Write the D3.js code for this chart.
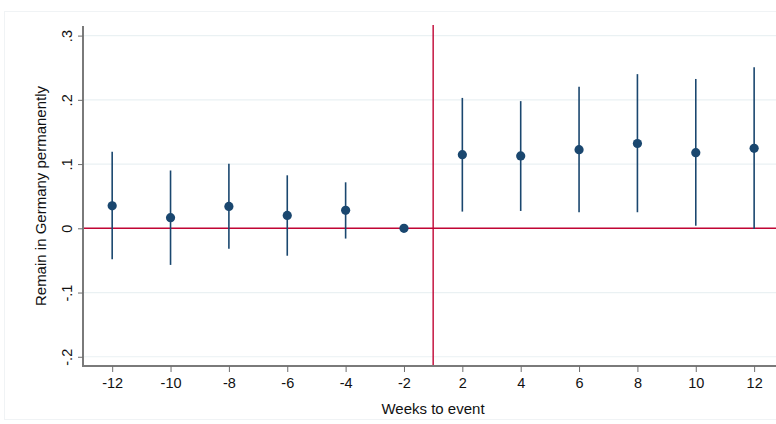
<!DOCTYPE html>
<html>
<head>
<meta charset="utf-8">
<script src="https://cdn.jsdelivr.net/npm/d3@7"></script>
<style>
  html, body { margin: 0; padding: 0; background: #fff; }
  svg { display: block; font-family: "Liberation Sans", Arial, sans-serif; }
</style>
</head>
<body>
<svg id="chart"></svg>
<script>
// weeks relative to the event (reference week -1 omitted)
const weeks = ['-12', '-10', '-8', '-6', '-4', '-2', '2', '4', '6', '8', '10', '12'];
const coef = [0.035, 0.0165, 0.034, 0.020, 0.028, 0, 0.1146, 0.1126, 0.1224, 0.132, 0.1177, 0.1245];
const ciLow = [-0.048, -0.057, -0.032, -0.0427, -0.016, null, 0.026, 0.027, 0.025, 0.025, 0.004, -0.001];
const ciHigh = [0.119, 0.090, 0.1006, 0.0825, 0.0716, null, 0.203, 0.198, 0.2205, 0.240, 0.2325, 0.2507];
const yTicks = [-0.2, -0.1, 0, 0.1, 0.2, 0.3];
const yTickLabels = ['-.2', '-.1', '0', '.1', '.2', '.3'];

const width = 776;
const height = 424;
const plotLeft = 83;
const plotTop = 26;
const plotBottom = 366;

const navy = '#1a476f';
const red = '#c10534';

const svg = d3.select('#chart')
    .attr('width', width)
    .attr('height', height);

// outer graph frame (stata style)
svg.append('rect')
    .attr('x', 4.5)
    .attr('y', 11.5)
    .attr('width', width)
    .attr('height', height - 16)
    .attr('fill', 'none')
    .attr('stroke', '#f0f3f5');

const x = d3.scaleLinear()
    .domain([-0.5, 11.5])
    .range([plotLeft, plotLeft + 12 * 58.36]);
const y = d3.scaleLinear()
    .domain([0, 0.3])
    .range([228.3, 35.6]);

// gridlines
svg.append('g')
    .selectAll('line')
    .data(yTicks)
    .join('line')
    .attr('x1', plotLeft)
    .attr('x2', width)
    .attr('y1', (d) => y(d))
    .attr('y2', (d) => y(d))
    .attr('stroke', '#eaf1f3')
    .attr('stroke-width', 1.2);

// reference lines
svg.append('line')
    .attr('x1', plotLeft)
    .attr('x2', width)
    .attr('y1', y(0))
    .attr('y2', y(0))
    .attr('stroke', red)
    .attr('stroke-width', 1.4);
svg.append('line')
    .attr('x1', x(5.5))
    .attr('x2', x(5.5))
    .attr('y1', plotTop - 1)
    .attr('y2', plotBottom)
    .attr('stroke', red)
    .attr('stroke-width', 1.4);

// confidence intervals
const idx = d3.range(weeks.length).filter((i) => ciLow[i] !== null);
svg.append('g')
    .selectAll('line')
    .data(idx)
    .join('line')
    .attr('x1', (i) => x(i))
    .attr('x2', (i) => x(i))
    .attr('y1', (i) => y(ciLow[i]))
    .attr('y2', (i) => y(ciHigh[i]))
    .attr('stroke', navy)
    .attr('stroke-width', 1.6);

// point estimates
svg.append('g')
    .selectAll('circle')
    .data(coef)
    .join('circle')
    .attr('cx', (d, i) => x(i))
    .attr('cy', (d) => y(d))
    .attr('r', 4.6)
    .attr('fill', navy);

// y axis
const yAxis = d3.axisLeft(y)
    .tickValues(yTicks)
    .tickSize(5)
    .tickPadding(6)
    .tickFormat((d, i) => yTickLabels[i]);
const gy = svg.append('g')
    .attr('transform', `translate(${plotLeft},0)`)
    .call(yAxis);
gy.select('.domain')
    .attr('d', `M0,${plotTop}V${plotBottom}`)
    .attr('stroke', '#7a7a7a')
    .attr('stroke-width', 2);
gy.selectAll('.tick line').attr('stroke', '#6e6e6e');
gy.selectAll('.tick text')
    .attr('font-size', 14.5)
    .attr('fill', '#111')
    .attr('text-anchor', 'middle')
    .attr('dy', null)
    .attr('x', null)
    .attr('transform', 'translate(-11,0) rotate(-90)')
    .attr('y', 0);

// x axis
const xAxis = d3.axisBottom(x)
    .tickValues(d3.range(weeks.length))
    .tickSize(6)
    .tickPadding(6)
    .tickFormat((d) => weeks[d]);
const gx = svg.append('g')
    .attr('transform', `translate(0,${plotBottom})`)
    .call(xAxis);
gx.select('.domain')
    .attr('d', `M${plotLeft - 1},0H${width}`)
    .attr('stroke', '#7a7a7a')
    .attr('stroke-width', 2);
gx.selectAll('.tick line').attr('stroke', '#6e6e6e');
gx.selectAll('.tick text')
    .attr('font-size', 14.5)
    .attr('fill', '#111');

// axis titles
svg.append('text')
    .attr('transform', 'translate(46,196) rotate(-90)')
    .attr('text-anchor', 'middle')
    .attr('font-size', 15)
    .attr('fill', '#111')
    .text('Remain in Germany permanently');
svg.append('text')
    .attr('x', 433)
    .attr('y', 414)
    .attr('text-anchor', 'middle')
    .attr('font-size', 15)
    .attr('fill', '#111')
    .text('Weeks to event');
</script>
</body>
</html>
